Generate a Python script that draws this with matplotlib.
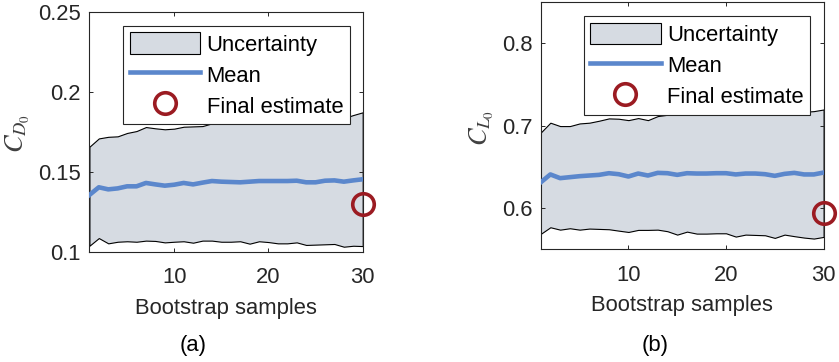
import numpy as np
import matplotlib
matplotlib.use("Agg")
import matplotlib.pyplot as plt

plt.rcParams["font.family"] = ["Liberation Sans", "DejaVu Sans"]
plt.rcParams["mathtext.fontset"] = "stix"

samples = np.arange(1, 31)

# Drag coefficient C_D0: bootstrap band, running mean, final estimate
cd_upper = [0.1657, 0.1709, 0.1719, 0.1722, 0.1743, 0.1755, 0.1780, 0.1772, 0.1766, 0.1770,
            0.1782, 0.1784, 0.1786, 0.1803, 0.1805, 0.1803, 0.1809, 0.1815, 0.1819, 0.1822,
            0.1824, 0.1828, 0.1830, 0.1832, 0.1832, 0.1834, 0.1836, 0.1836, 0.1855, 0.1872]
cd_mean = [0.1356, 0.1404, 0.1391, 0.1397, 0.1410, 0.1410, 0.1431, 0.1422, 0.1414, 0.1420,
           0.1431, 0.1422, 0.1433, 0.1443, 0.1439, 0.1437, 0.1435, 0.1439, 0.1443, 0.1443,
           0.1443, 0.1443, 0.1445, 0.1435, 0.1435, 0.1445, 0.1447, 0.1439, 0.1447, 0.1454]
cd_lower = [0.1039, 0.1087, 0.1054, 0.1064, 0.1067, 0.1064, 0.1071, 0.1069, 0.1060, 0.1064,
            0.1067, 0.1058, 0.1071, 0.1071, 0.1064, 0.1064, 0.1067, 0.1052, 0.1067, 0.1062,
            0.1054, 0.1054, 0.1060, 0.1044, 0.1046, 0.1048, 0.1050, 0.1033, 0.1039, 0.1037]
cd_final = 0.130

# Lift coefficient C_L0
cl_upper = [0.6913, 0.7034, 0.6993, 0.6993, 0.7025, 0.7034, 0.7058, 0.7086, 0.7082, 0.7065,
            0.7090, 0.7065, 0.7114, 0.7130, 0.7134, 0.7138, 0.7142, 0.7142, 0.7146, 0.7146,
            0.7150, 0.7154, 0.7154, 0.7154, 0.7154, 0.7154, 0.7178, 0.7166, 0.7174, 0.7194]
cl_mean = [0.6310, 0.6407, 0.6362, 0.6374, 0.6386, 0.6394, 0.6402, 0.6422, 0.6410, 0.6382,
           0.6418, 0.6394, 0.6426, 0.6422, 0.6402, 0.6422, 0.6418, 0.6418, 0.6422, 0.6422,
           0.6407, 0.6418, 0.6418, 0.6410, 0.6390, 0.6414, 0.6426, 0.6407, 0.6407, 0.6430]
cl_lower = [0.5686, 0.5767, 0.5738, 0.5755, 0.5738, 0.5751, 0.5747, 0.5743, 0.5726, 0.5710,
            0.5735, 0.5735, 0.5738, 0.5719, 0.5678, 0.5714, 0.5690, 0.5690, 0.5694, 0.5694,
            0.5654, 0.5678, 0.5674, 0.5670, 0.5638, 0.5678, 0.5659, 0.5642, 0.5630, 0.5650]
cl_final = 0.5936

FILL = "#d6dbe2"
MEAN = "#5b87cc"
FINAL = "#9b1b22"
AXC = "#262626"
FS = 15.8

fig = plt.figure(figsize=(8.39, 3.62), dpi=100)


def panel(rect, lower, mean, upper, final, ylim, yticks, yticklabels, ylabel, ylabel_xy):
    ax = fig.add_axes(rect)
    ax.fill_between(samples, lower, upper, facecolor=FILL, edgecolor="black",
                    linewidth=0.8, label="Uncertainty", zorder=1)
    ax.plot(samples, mean, color=MEAN, lw=3.3, label="Mean", zorder=3)
    ax.plot([samples[-1]], [final], "o", ms=15.5, mfc="none", mec=FINAL, mew=2.6,
            clip_on=False, label="Final estimate", zorder=4)
    ax.set_xlim(1, 30)
    ax.set_ylim(*ylim)
    ax.set_xticks([10, 20, 30])
    ax.set_yticks(yticks)
    ax.set_yticklabels(yticklabels)
    for s in ax.spines.values():
        s.set_color(AXC)
        s.set_linewidth(0.8)
    ax.tick_params(direction="in", length=3, width=0.7, colors=AXC, labelsize=FS,
                   top=True, right=True)
    ax.tick_params(axis="x", pad=11)
    ax.tick_params(axis="y", pad=6)
    ax.set_xlabel("Bootstrap samples", fontsize=FS, color=AXC, labelpad=7)
    fig.text(ylabel_xy[0], ylabel_xy[1], ylabel, rotation=90, ha="center", va="center",
             fontsize=19, color="#404040")
    leg = ax.legend(loc="upper right", bbox_to_anchor=(0.953, 0.942), borderaxespad=0,
                    fontsize=FS, fancybox=False, framealpha=1, edgecolor=AXC,
                    handlelength=3.2, handleheight=1.15, handletextpad=0.3,
                    labelspacing=0.35, borderpad=0.3)
    leg.get_frame().set_linewidth(0.8)
    return ax


ax1 = panel([89.4 / 839, 1 - 252 / 362, 273.3 / 839, 240.3 / 362],
            cd_lower, cd_mean, cd_upper, cd_final, (0.1, 0.25),
            [0.1, 0.15, 0.2, 0.25], ["0.1", "0.15", "0.2", "0.25"],
            r"$C_{D_0}$", (18 / 839, 1 - 133 / 362))
ax2 = panel([540.6 / 839, 1 - 249.3 / 362, 283 / 839, 247.6 / 362],
            cl_lower, cl_mean, cl_upper, cl_final, (0.55, 0.85),
            [0.6, 0.7, 0.8], ["0.6", "0.7", "0.8"],
            r"$C_{L_0}$", (482 / 839, 1 - 128 / 362))

fig.text(193 / 839, 1 - 345 / 362, "(a)", ha="center", va="center", fontsize=FS, color="black")
fig.text(655 / 839, 1 - 345 / 362, "(b)", ha="center", va="center", fontsize=FS, color="black")

fig.savefig("out.png", dpi=100)
